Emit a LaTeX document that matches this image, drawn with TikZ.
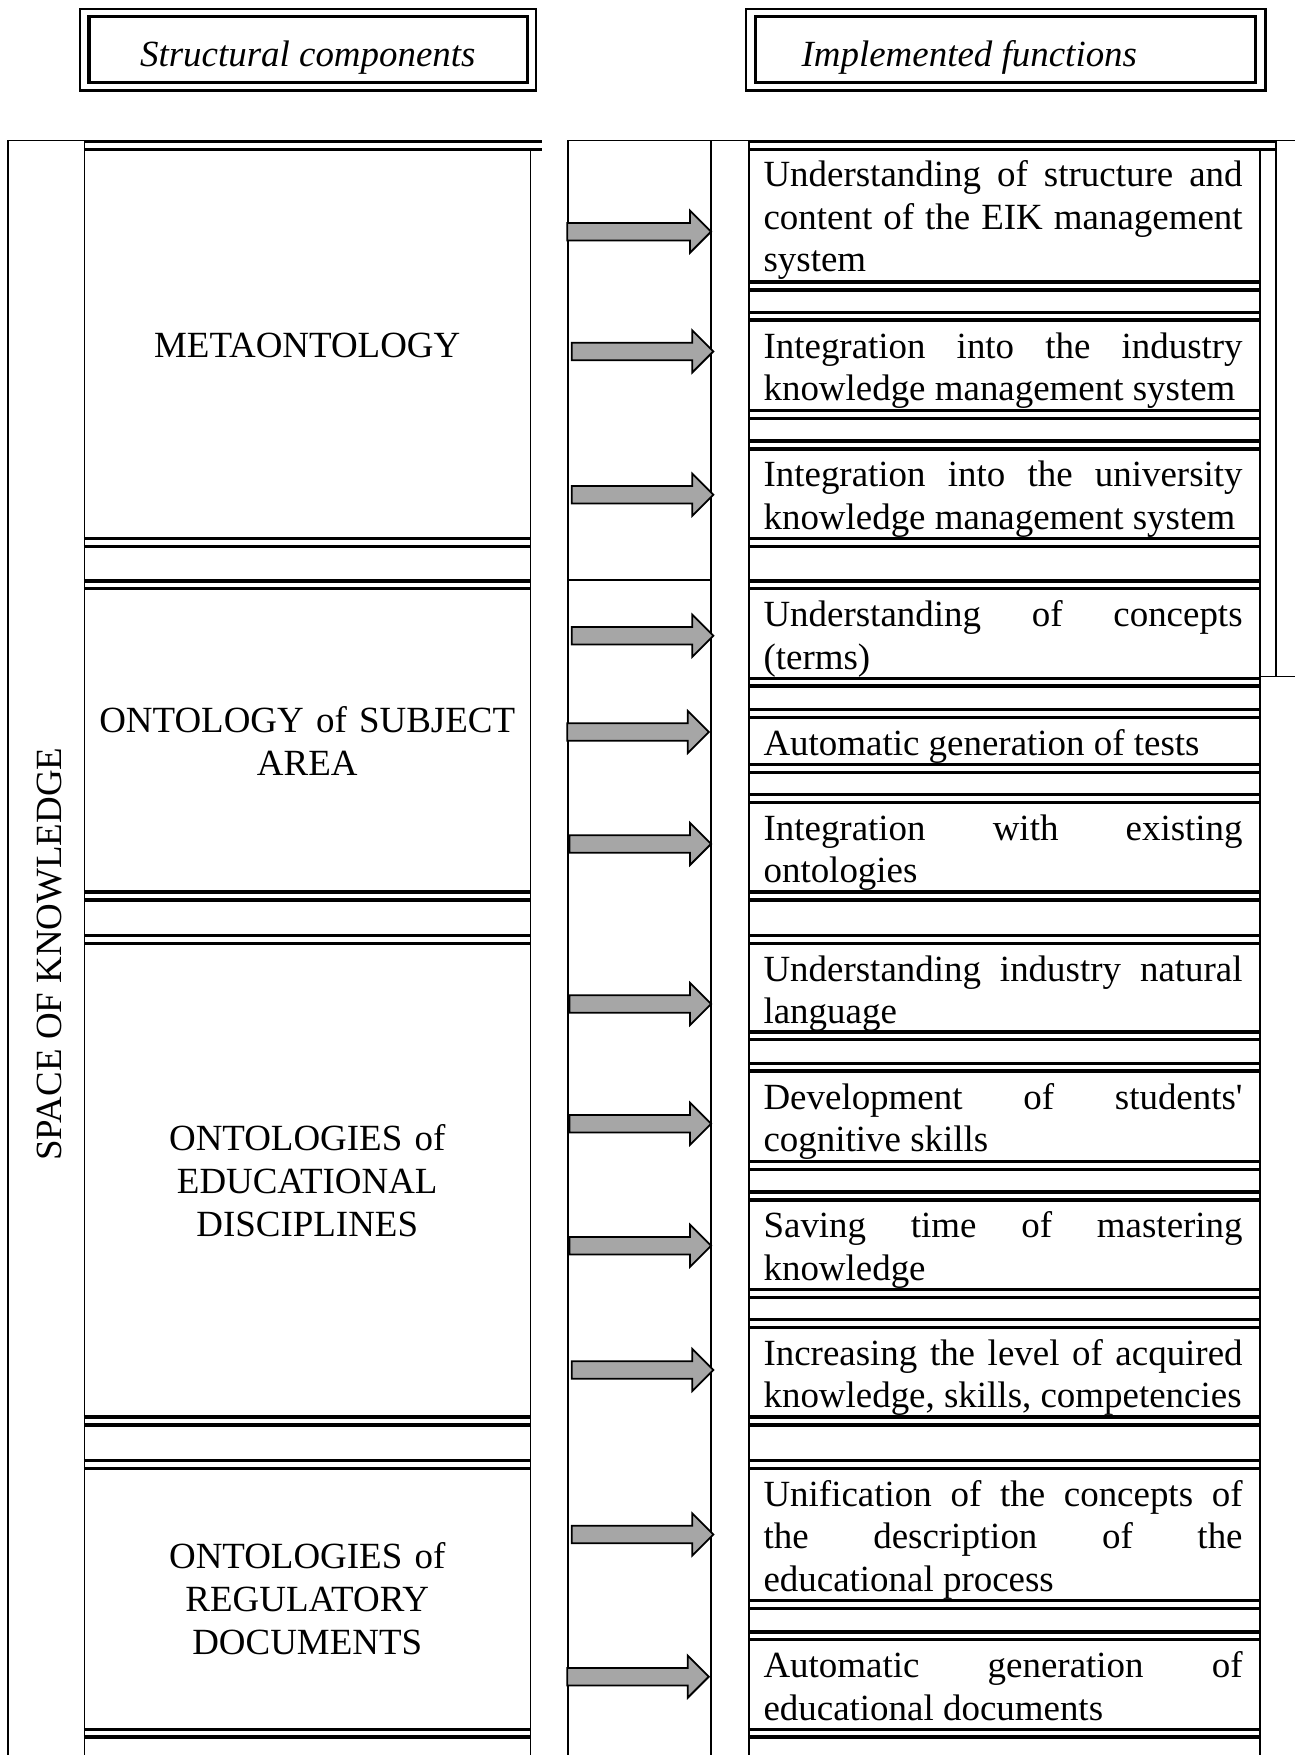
\documentclass[tikz,border=0pt]{standalone}
\usepackage{fontspec}
\setmainfont{Liberation Serif}
\usetikzlibrary{shapes.arrows}
\definecolor{arrowgray}{HTML}{A6A6A6}
\hyphenpenalty=10000
\exhyphenpenalty=10000
\tolerance=10000
\hbadness=10000
\begin{document}
\begin{tikzpicture}[x=1pt,y=-1pt,
  thinline/.style={line width=1.6pt},
  dblline/.style={line width=3pt},
  txt/.style={font=\fontsize{33}{37.8}\selectfont, inner sep=0pt},
  hdr/.style={font=\fontsize{33}{37.8}\selectfont\itshape, inner sep=0pt},
  func/.style={txt, text width=428pt, align=justify, anchor=base west},
  comp/.style={font=\fontsize{33}{38.5}\selectfont, inner sep=0pt, text width=399pt, align=center, anchor=base},
  barrow/.style={single arrow, draw=black, line width=1.6pt, fill=arrowgray,
    single arrow head extend=11pt, single arrow tip angle=90,
    inner xsep=0pt, inner ysep=7pt, text height=0pt, text depth=0pt,
    minimum width=1pt, anchor=tail}]
\useasboundingbox (0,0) rectangle (1157,1568);

% header boxes
\draw[line width=2.4pt] (71.5,8) rectangle (479,81);
\draw[line width=3pt] (79.5,15) rectangle (471,73.5);
\draw[line width=2.4pt] (666.5,8) rectangle (1130.5,81);
\draw[line width=3pt] (675,15) rectangle (1121.5,73.5);
\node[hdr, anchor=base] (hleft) at (275,59) {Structural components};
\node[hdr, anchor=base west] (hright) at (716,59) {Implemented functions};

% table frame
\draw[thinline] (7.5,125.5) -- (7.5,1568);
\draw[thinline] (7.5,125.5) -- (75.5,125.5);
\draw[thinline] (75.5,126) -- (75.5,1568);
\draw[thinline] (474,133) -- (474,1568);
\draw[thinline] (507.5,125.5) -- (507.5,1568);
\draw[thinline] (635.5,125.5) -- (635.5,1568);
\draw[thinline] (507.5,125.5) -- (669,125.5);
\draw[thinline] (507.5,518) -- (635.5,518);
\draw[thinline] (669,126) -- (669,1568);
\draw[thinline] (1125.5,133) -- (1125.5,1568);
\draw[thinline] (1140,125.5) -- (1157,125.5);
\draw[thinline] (1140,125.5) -- (1140,604.5);
\draw[thinline] (1125.5,604.5) -- (1157,604.5);

% double rules, left column
\draw[dblline] (75,126.5) -- (484,126.5) (75,133.5) -- (484,133.5);
\foreach \y in {481,519,797,836,1266,1305,1545}
  \draw[dblline] (75,\y) -- (474,\y) (75,\y+7) -- (474,\y+7);
% double rules, right column
\draw[dblline] (669,126.5) -- (1140,126.5) (669,133.5) -- (1140,133.5);
\foreach \y in {252,279,367,394,481,519,606,634,683,710,797,836,922,950,1038,1065,1152,1179,1266,1305,1430,1458,1545}
  \draw[dblline] (669,\y) -- (1125.5,\y) (669,\y+7) -- (1125.5,\y+7);

% vertical label
\node[txt, rotate=90, anchor=base] (space) at (54.5,852.5) {SPACE OF KNOWLEDGE};

% structural components
\node[comp] (c1) at (274.5,319) {METAONTOLOGY};
\node[comp] (c2) at (274.5,654) {ONTOLOGY of SUBJECT\\AREA};
\node[comp] (c3) at (274.5,1027.5) {ONTOLOGIES of\\EDUCATIONAL\\DISCIPLINES};
\node[comp] (c4) at (274.5,1401) {ONTOLOGIES of\\REGULATORY\\DOCUMENTS};

% implemented functions
\node[func] (f1) at (682,167) {Understanding of structure and\linebreak content of the EIK management\linebreak system};
\node[func] (f2) at (682,320) {Integration into the industry\linebreak knowledge management system};
\node[func] (f3) at (682,435) {Integration into the university\linebreak knowledge management system};
\node[func] (f4) at (682,560) {Understanding of concepts\linebreak (terms)};
\node[func] (f5) at (682,675) {Automatic generation of tests};
\node[func] (f6) at (682,751) {Integration with existing\linebreak ontologies};
\node[func] (f7) at (682,877) {Understanding industry natural\linebreak language};
\node[func] (f8) at (682,991) {Development of students\textquotesingle\linebreak cognitive skills};
\node[func] (f9) at (682,1106) {Saving time of mastering\linebreak knowledge};
\node[func] (f10) at (682,1220) {Increasing the level of acquired\linebreak knowledge, skills, competencies};
\node[func] (f11) at (682,1346) {Unification of the concepts of\linebreak the description of the\linebreak educational process};
\node[func] (f12) at (682,1499) {Automatic generation of\linebreak educational documents};

% arrows
\foreach \n/\xs/\xe/\y in {1/506/636/207, 2/510/638/314, 3/510/638/442, 4/510/638/568,
  5/506/634/654, 6/508/636/754, 7/508/636/897, 8/508/636/1004, 9/508/636/1113,
  10/510/638/1224, 11/510/638/1371, 12/506/634/1498}
  \node[barrow, minimum height=\xe-\xs-1.5] (arrow\n) at (\xs,\y) {};
\end{tikzpicture}
\end{document}
